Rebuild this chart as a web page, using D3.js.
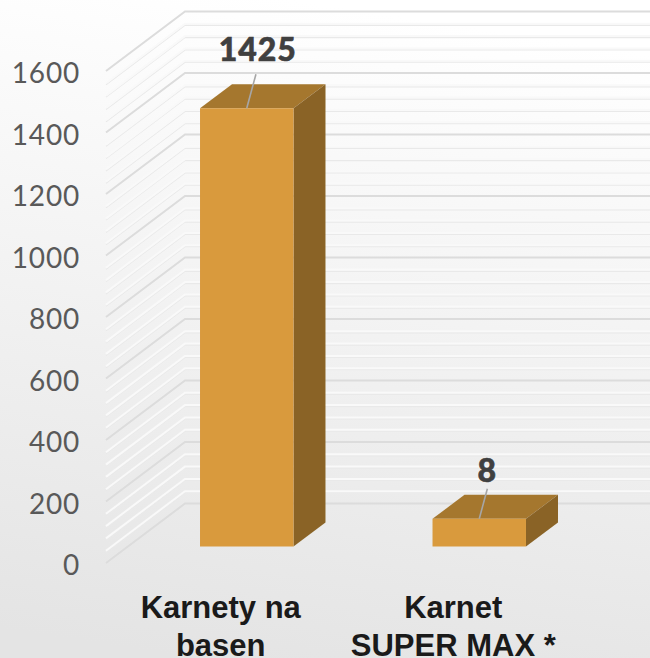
<!DOCTYPE html>
<html lang="en">
<head>
  <meta charset="UTF-8">
  <title>Karnety</title>
  <script src="https://d3js.org/d3.v7.min.js"></script>
  <style>
    html, body { margin: 0; padding: 0; background: #eee; }
    svg { display: block; }
    .tick-label { font-family: Lato, sans-serif; font-size: 28px; fill: #595959; letter-spacing: 0.8px; }
    .value-label { font-family: Lato, sans-serif; font-weight: 900; font-size: 32px; fill: #404040; stroke: #404040; stroke-width: 0.6px; text-anchor: middle; letter-spacing: 1px; }
    .cat-label { font-family: "Liberation Sans", Arial, sans-serif; font-weight: bold; font-size: 31px; fill: #1a1a1a; text-anchor: middle; }
  </style>
</head>
<body>
  <svg id="chart" width="650" height="658"></svg>

  <script>
    // Data
    const categories = ["Karnety na|basen", "Karnet|SUPER MAX *"];
    const barValues = [1425, 90]; // drawn height, the second box is taller than its label says
    const valueLabels = ["1425", "8"];
    const majorTicks = [0, 200, 400, 600, 800, 1000, 1200, 1400, 1600];
    const minorTicks = d3.range(0, 1600, 40).filter((v) => v % 200 !== 0);

    const width = 650, height = 658;
    const svg = d3.select("#chart");

    // Background
    const defs = svg.append("defs");
    const bg = defs.append("linearGradient").attr("id", "bg")
      .attr("x1", 0.45).attr("y1", 0).attr("x2", 0.3).attr("y2", 1);
    bg.append("stop").attr("offset", 0).attr("stop-color", "#ffffff");
    bg.append("stop").attr("offset", 1).attr("stop-color", "#e4e4e4");
    svg.append("rect").attr("width", width).attr("height", height).attr("fill", "url(#bg)");
    defs.append("filter").attr("id", "soft")
      .append("feGaussianBlur").attr("stdDeviation", 0.5);

    // Scales: y is the front edge of the side wall, the rest is a shift back in depth
    const y = d3.scaleLinear().domain([0, 1600]).range([563, 71]);
    const wall = { dx: 79, dy: -59.5 };
    const barDepth = { dx: 32, dy: -24 };
    const barLift = -16.5; // bars stand in from the side wall front
    const x = d3.scaleBand().domain(categories).range([130.5, 595.5]).paddingInner(0.598).paddingOuter(0.299);
    const xWallFront = 106;

    // Grid
    const grid = svg.append("g").attr("fill", "none").attr("filter", "url(#soft)");
    const gridLine = d3.line();
    function wallPath(v) {
      return gridLine([
        [xWallFront, y(v)],
        [xWallFront + wall.dx, y(v) + wall.dy],
        [width, y(v) + wall.dy]
      ]);
    }
    grid.selectAll(".minor-shade").data(minorTicks).enter().append("path")
      .attr("d", wallPath).attr("transform", "translate(0,1.5)")
      .attr("stroke", "#e9e9e9").attr("stroke-width", 1.2);
    grid.selectAll(".minor").data(minorTicks).enter().append("path")
      .attr("d", wallPath).attr("stroke", "#f9f9f9").attr("stroke-width", 2);
    grid.selectAll(".major").data(majorTicks).enter().append("path")
      .attr("d", wallPath).attr("stroke", "#dcdcdc").attr("stroke-width", 2);

    // Y axis labels
    const axis = d3.axisLeft(y).tickValues(majorTicks).tickSize(0).tickPadding(0).tickFormat(d3.format("d"));
    const axisG = svg.append("g").attr("transform", "translate(80,3)").call(axis);
    axisG.select(".domain").remove();
    axisG.selectAll("text").attr("class", "tick-label").attr("font-family", null).attr("font-size", null);

    // Bars: front, top and side faces
    const bars = svg.append("g").selectAll("g").data(categories).enter().append("g").attr("filter", "url(#soft)");
    const yBar = (v) => y(v) + barLift;
    const poly = (pts) => "M" + pts.join("L") + "Z";
    bars.append("path").attr("fill", "#a5772f").attr("d", (d, i) => {
      const l = x(d), r = l + x.bandwidth(), t = yBar(barValues[i]);
      return poly([[l, t], [r, t], [r + barDepth.dx, t + barDepth.dy], [l + barDepth.dx, t + barDepth.dy]]);
    });
    bars.append("path").attr("fill", "#8a6427").attr("d", (d, i) => {
      const r = x(d) + x.bandwidth(), t = yBar(barValues[i]), b = yBar(0);
      return poly([[r, t], [r + barDepth.dx, t + barDepth.dy], [r + barDepth.dx, b + barDepth.dy], [r, b]]);
    });
    bars.append("path").attr("fill", "#d99a3d").attr("d", (d, i) => {
      const l = x(d), r = l + x.bandwidth(), t = yBar(barValues[i]), b = yBar(0);
      return poly([[l, t], [r, t], [r, b], [l, b]]);
    });

    // Leader lines and value labels, the short bar's label sits closer and further left
    const leaderLen = [34, 30];
    const labelLift = [47, 37];
    const labelShift = [11, 8];
    svg.append("g").selectAll("line").data(categories).enter().append("line")
      .attr("x1", (d) => x(d) + x.bandwidth() / 2)
      .attr("y1", (d, i) => yBar(barValues[i]))
      .attr("x2", (d, i) => x(d) + x.bandwidth() / 2 + leaderLen[i] * 0.27)
      .attr("y2", (d, i) => yBar(barValues[i]) - leaderLen[i])
      .attr("stroke", "#a6a6a6").attr("stroke-width", 1.6);
    svg.append("g").selectAll("text").data(categories).enter().append("text")
      .attr("class", "value-label")
      .attr("x", (d, i) => x(d) + x.bandwidth() / 2 + labelShift[i])
      .attr("y", (d, i) => yBar(barValues[i]) - labelLift[i])
      .text((d, i) => valueLabels[i]);

    // Category labels
    const cats = svg.append("g").selectAll("text").data(categories).enter().append("text")
      .attr("class", "cat-label")
      .attr("y", 618);
    cats.selectAll("tspan").data((d) => d.split("|").map((t) => ({ t, d }))).enter().append("tspan")
      .attr("x", (e) => x(e.d) + x.bandwidth() / 2 - 26)
      .attr("dy", (e, i) => i ? 38 : 0)
      .text((e) => e.t);
  </script>
</body>
</html>
